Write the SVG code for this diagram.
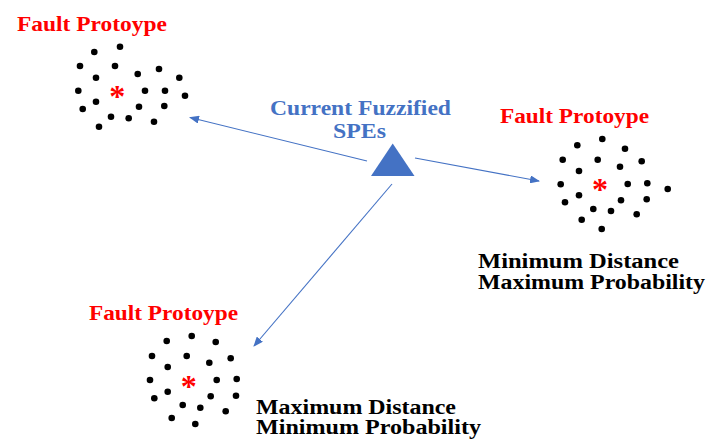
<svg xmlns="http://www.w3.org/2000/svg" width="708" height="443" viewBox="0 0 708 443">
<style>
.lbl{font-family:"Liberation Serif","Times New Roman",serif;font-weight:bold;}
.red{fill:#FF0000;font-size:21px;}
.blk{fill:#000000;font-size:20px;}
.blue{fill:#4472C4;font-size:21px;}
.ast{fill:#FF0000;font-family:"Liberation Serif",serif;font-weight:bold;font-size:32px;text-anchor:middle;}
.conn{stroke:#4472C4;stroke-width:1.1;fill:none;marker-end:url(#ah);}
circle{fill:#000000;}
</style>
<defs>
<marker id="ah" markerUnits="userSpaceOnUse" markerWidth="10" markerHeight="8" refX="9" refY="4" orient="auto">
<path d="M0,0 L10,4 L0,8 Z" fill="#4472C4"/>
</marker>
</defs>
<rect width="708" height="443" fill="#FFFFFF"/>
<g id="connectors">
<line class="conn" x1="367" y1="161" x2="190" y2="117.5"/>
<line class="conn" x1="415" y1="158" x2="539" y2="181"/>
<line class="conn" x1="392" y1="184" x2="254" y2="346"/>
</g>
<g id="current">
<text class="lbl blue" x="270" y="115" textLength="181" lengthAdjust="spacingAndGlyphs">Current Fuzzified</text>
<text class="lbl blue" x="333" y="138" textLength="53" lengthAdjust="spacingAndGlyphs">SPEs</text>
<polygon points="392.7,143.5 371,176 414.5,176" fill="#4472C4"/>
</g>
<g id="cluster1">
<text class="lbl red" x="17" y="31" textLength="150" lengthAdjust="spacingAndGlyphs">Fault Protoype</text>
<circle cx="120" cy="46.7" r="3.3"/><circle cx="94.3" cy="52" r="3.3"/><circle cx="80" cy="66" r="3.3"/><circle cx="115" cy="66" r="3.3"/>
<circle cx="96" cy="77.7" r="3.3"/><circle cx="137.7" cy="74" r="3.3"/><circle cx="159" cy="69" r="3.3"/><circle cx="179.3" cy="77.7" r="3.3"/>
<circle cx="78.3" cy="90.7" r="3.3"/><circle cx="145" cy="90.7" r="3.3"/><circle cx="165" cy="90.7" r="3.3"/><circle cx="185" cy="95.7" r="3.3"/>
<circle cx="96" cy="101.7" r="3.3"/><circle cx="82.7" cy="109" r="3.3"/><circle cx="139" cy="106.7" r="3.3"/><circle cx="164.3" cy="106" r="3.3"/>
<circle cx="111" cy="116.7" r="3.3"/><circle cx="128.7" cy="118.3" r="3.3"/><circle cx="154" cy="121.7" r="3.3"/><circle cx="99" cy="126.7" r="3.3"/>
<text class="ast" x="117.3" y="107">*</text>
</g>
<g id="cluster2">
<text class="lbl red" x="500" y="123" textLength="149" lengthAdjust="spacingAndGlyphs">Fault Protoype</text>
<circle cx="602.3" cy="139" r="3.3"/><circle cx="577.3" cy="145.3" r="3.3"/><circle cx="625" cy="148.7" r="3.3"/><circle cx="562.7" cy="159.7" r="3.3"/>
<circle cx="597.7" cy="159.7" r="3.3"/><circle cx="641.7" cy="161.3" r="3.3"/><circle cx="579" cy="171" r="3.3"/><circle cx="620" cy="166.7" r="3.3"/>
<circle cx="560.7" cy="184.3" r="3.3"/><circle cx="627.7" cy="184" r="3.3"/><circle cx="647.3" cy="183.3" r="3.3"/><circle cx="667.7" cy="189" r="3.3"/>
<circle cx="579" cy="195.3" r="3.3"/><circle cx="565" cy="202.3" r="3.3"/><circle cx="621" cy="200.3" r="3.3"/><circle cx="646.7" cy="199.3" r="3.3"/>
<circle cx="593.3" cy="209" r="3.3"/><circle cx="611" cy="211" r="3.3"/><circle cx="636.7" cy="214.3" r="3.3"/><circle cx="581.7" cy="219.7" r="3.3"/>
<circle cx="601.7" cy="229" r="3.3"/>
<text class="ast" x="600" y="200.4">*</text>
<text class="lbl blk" x="478" y="267.5" textLength="201" lengthAdjust="spacingAndGlyphs">Minimum Distance</text>
<text class="lbl blk" x="478" y="288.5" textLength="227" lengthAdjust="spacingAndGlyphs">Maximum Probability</text>
</g>
<g id="cluster3">
<text class="lbl red" x="89" y="320" textLength="149" lengthAdjust="spacingAndGlyphs">Fault Protoype</text>
<circle cx="191.7" cy="336" r="3.3"/><circle cx="166.7" cy="341" r="3.3"/><circle cx="215.7" cy="342" r="3.3"/><circle cx="152" cy="356" r="3.3"/>
<circle cx="186.7" cy="356" r="3.3"/><circle cx="230.7" cy="358.3" r="3.3"/><circle cx="167.7" cy="367" r="3.3"/><circle cx="209.3" cy="362.7" r="3.3"/>
<circle cx="150" cy="380" r="3.3"/><circle cx="216.7" cy="380" r="3.3"/><circle cx="236.7" cy="379" r="3.3"/><circle cx="167.7" cy="391.7" r="3.3"/>
<circle cx="154.3" cy="398.3" r="3.3"/><circle cx="210.7" cy="396.3" r="3.3"/><circle cx="236" cy="395.7" r="3.3"/><circle cx="182.7" cy="405" r="3.3"/>
<circle cx="200.3" cy="407.7" r="3.3"/><circle cx="225.7" cy="411.3" r="3.3"/><circle cx="171.7" cy="418" r="3.3"/><circle cx="195.3" cy="424" r="3.3"/>
<text class="ast" x="188.7" y="397.4">*</text>
<text class="lbl blk" x="256" y="413.5" textLength="200" lengthAdjust="spacingAndGlyphs">Maximum Distance</text>
<text class="lbl blk" x="256" y="434" textLength="225" lengthAdjust="spacingAndGlyphs">Minimum Probability</text>
</g>
</svg>
